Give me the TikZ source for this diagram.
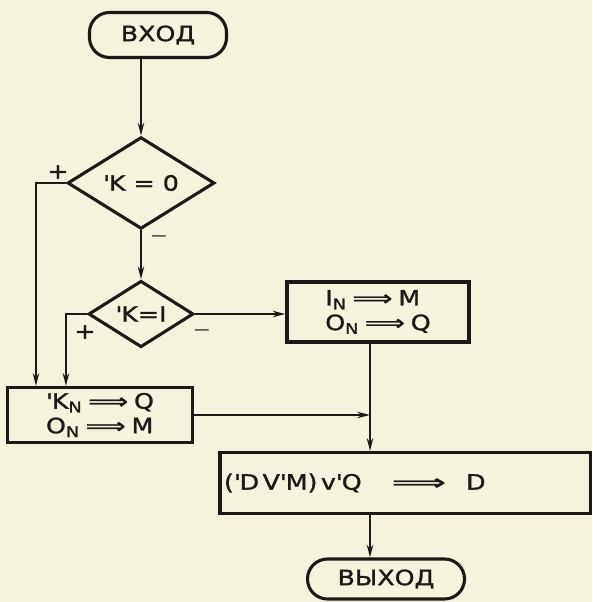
\documentclass[tikz,border=0pt]{standalone}
\usepackage{fontspec}
\setmainfont[FakeStretch=1.2, FakeBold=1.4]{DejaVu Sans}
\usepackage{graphicx}
\usetikzlibrary{shapes.geometric,arrows.meta}
\definecolor{paper}{RGB}{245,243,221}
\definecolor{ink}{RGB}{28,26,24}
\newcommand{\impl}[1]{\scalebox{#1}[1]{⟹}}
\newcommand{\nt}{\textquotesingle}
\tikzset{
  term/.style={draw=ink, line width=2.2pt, rounded corners=0.5cm, inner sep=0pt},
  cond/.style={draw=ink, line width=2.2pt, diamond, inner sep=0pt},
  proc/.style={draw=ink, line width=2.2pt, rectangle, inner sep=0pt, align=left},
  flow/.style={draw=ink, line width=1.5pt, -{Stealth[length=9pt,width=4.5pt]}},
  sign/.style={font=\fontsize{15}{17}\selectfont\boldmath}
}

\begin{document}
\begin{tikzpicture}[x=0.025cm, y=-0.025cm, font=\fontsize{15}{17.5}\selectfont, text=ink]
  \fill[paper] (0,0) rectangle (592,602);
  \useasboundingbox (0,0) rectangle (592,602);

  % Start and end
  \node[term, minimum width=3.425cm, minimum height=1.125cm] (entry) at (158,35) {ВХОД};
  \node[term, minimum width=3.925cm, minimum height=1cm] (exit) at (386,579) {ВЫХОД};

  % Tests on K
  \node[cond, minimum width=3.675cm, minimum height=2.1cm] (kzero) at (141,183) {\nt K = 0\hspace{0.2cm}};
  \node[cond, minimum width=2.625cm, minimum height=1.55cm] (kone) at (141,314) {\nt K=I};

  % Assignment blocks
  \node[proc, minimum width=4.55cm, minimum height=1.5cm] (setA) at (378,312)
    {I\textsubscript{N}\;\impl{1.1}\;M\\O\textsubscript{N}\;\impl{1.1}\;Q};
  \node[proc, minimum width=4.625cm, minimum height=1.375cm] (setB) at (100,415)
    {\nt K\textsubscript{N}\;\impl{1.1}\;Q\\O\textsubscript{N}\;\impl{1.1}\;M};
  \node[proc, minimum width=9.25cm, minimum height=1.525cm, text width=9.05cm, inner xsep=0.1cm] (setD) at (405,483)
    {(\nt D\,V\nt M)\,v\nt Q\hspace{0.75cm}\impl{1.5}\hspace{0.5cm}D};

  % Branch signs
  \node[sign] (pzero) at (58,172) {+};
  \node[sign] (mzero) at (159,236) {$-$};
  \node[sign] (pone) at (85,332) {+};
  \node[sign] (mone) at (202,330) {$-$};

  % Connectors
  \draw[flow] (entry.south -| kzero.north) -- (kzero.north);
  \draw[flow] (kzero.south) -- (kone.north);
  \draw[flow] (kzero.west) -| ([xshift=0.75cm]setB.north west);
  \draw[flow] (kone.west) -| ([xshift=1.5cm]setB.north west);
  \draw[flow] (kone.east) -- (kone.east -| setA.west);
  \coordinate (jn) at ([xshift=-0.2cm]setA.south);
  \draw[flow] (jn) -- (jn |- setD.north);
  \draw[flow] (setB.east) -- (setB.east -| jn);
  \draw[flow] (jn |- setD.south) -- (jn |- exit.north);
\end{tikzpicture}
\end{document}
